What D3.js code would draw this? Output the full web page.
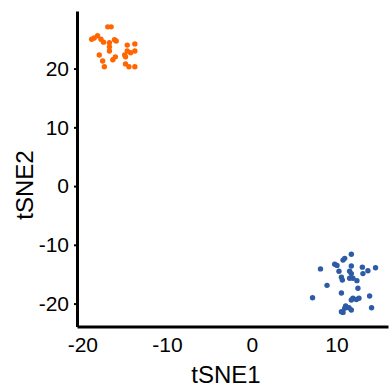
<!DOCTYPE html>
<html>
<head>
<meta charset="utf-8">
<script src="https://cdn.jsdelivr.net/npm/d3@7"></script>
<style>
  body { margin: 0; background: #fff; }
  svg { display: block; font-family: "Liberation Sans", Arial, sans-serif; }
</style>
</head>
<body>
<svg id="chart" width="390" height="389"></svg>
<script>
// cluster 1 (orange)
const orangeX = [-17.0, -16.6, -18.9, -18.6, -18.2, -17.8, -17.5, -16.8, -16.2, -16.0, -16.8, -16.8, -18.0, -17.6, -17.4, -16.4, -16.1, -15.0, -14.7, -14.3, -13.8, -14.7, -13.8, -14.9, -14.9, -14.5, -13.8]
const orangeY = [27.1, 27.1, 25.0, 25.2, 25.6, 25.0, 24.5, 24.4, 24.9, 24.7, 23.7, 23.0, 22.3, 21.3, 20.3, 21.5, 22.0, 22.3, 23.0, 22.7, 23.0, 24.0, 24.2, 22.0, 20.8, 20.3, 20.3]
// cluster 2 (blue)
const blueX = [11.76, 10.98, 10.78, 9.8, 10.07, 11.76, 8.12, 10.3, 11.56, 11.76, 13.06, 13.72, 14.62, 13.13, 10.59, 10.7, 11.56, 11.95, 12.42, 8.89, 12.54, 10.59, 7.18, 13.92, 11.95, 11.76, 12.35, 12.66, 11.09, 11.48, 10.98, 14.15, 10.59, 10.78, 11.76]
const blueY = [-11.6, -12.3, -12.6, -13.3, -13.5, -13.6, -14.1, -14.5, -14.5, -14.9, -13.8, -14.4, -13.9, -14.9, -15.5, -16.0, -15.7, -15.7, -16.1, -16.9, -17.4, -18.2, -19.0, -18.7, -19.1, -19.4, -19.3, -19.1, -20.4, -20.7, -20.8, -20.7, -21.4, -21.5, -21.1]

const xTicks = [-20, -10, 0, 10]
const yTicks = [-20, -10, 0, 10, 20]

const svg = d3.select("#chart")
const margin = {left: 77, right: 2, top: 11, bottom: 62.5}
const width = 390 - margin.left - margin.right
const height = 389 - margin.top - margin.bottom

const xScale = d3.scaleLinear()
    .domain([-20.63, 16.09])
    .range([0, width])
const yScale = d3.scaleLinear()
    .domain([-23.9, 29.8])
    .range([height, 0])

const g = svg.append("g")
    .attr("transform", `translate(${margin.left}, ${margin.top})`)

const series = [
    {xs: orangeX, ys: orangeY, color: "#ff6600"},
    {xs: blueX, ys: blueY, color: "#2e5ba6"}
]
series.forEach(s => {
    g.selectAll(null)
        .data(s.xs.map((x, i) => [x, s.ys[i]]))
        .join("circle")
        .attr("cx", d => xScale(d[0]))
        .attr("cy", d => yScale(d[1]))
        .attr("r", 2.7)
        .attr("fill", s.color)
})

// x axis
const xAxis = g.append("g")
    .attr("transform", `translate(0, ${height})`)
    .call(d3.axisBottom(xScale).tickValues(xTicks).tickSize(0).tickPadding(11).tickFormat(d => String(d)))
xAxis.select(".domain").attr("stroke-width", 3)
xAxis.selectAll("text").attr("font-size", 21).attr("fill", "#000").attr("font-family", "Liberation Sans, Arial, sans-serif")

// y axis
const yAxis = g.append("g")
    .call(d3.axisLeft(yScale).tickValues(yTicks).tickSizeInner(3).tickSizeOuter(0).tickPadding(5).tickFormat(d => String(d)))
yAxis.select(".domain").attr("stroke-width", 3)
yAxis.selectAll(".tick line").attr("stroke-width", 2)
yAxis.selectAll("text").attr("font-size", 21).attr("fill", "#000").attr("font-family", "Liberation Sans, Arial, sans-serif")

// titles
svg.append("text")
    .text("tSNE1")
    .attr("x", 226)
    .attr("y", 383)
    .attr("text-anchor", "middle")
    .attr("font-size", 24)
svg.append("text")
    .text("tSNE2")
    .attr("transform", "translate(33, 185) rotate(-90)")
    .attr("text-anchor", "middle")
    .attr("font-size", 24)
</script>
</body>
</html>
